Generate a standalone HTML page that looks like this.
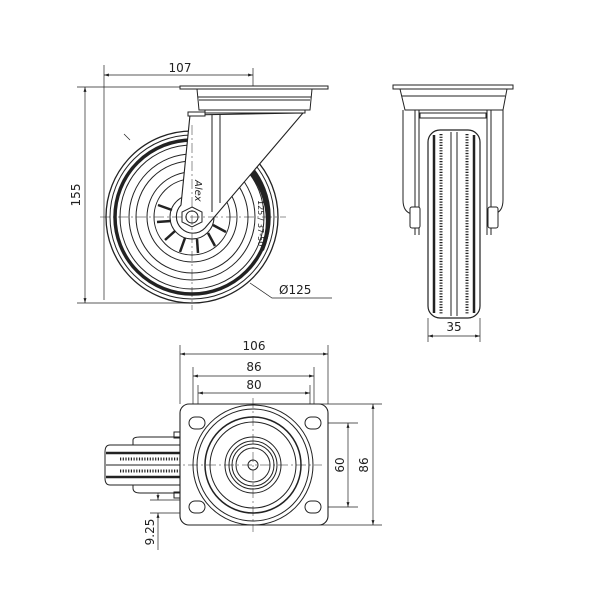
<!DOCTYPE html>
<html><head><style>html,body{margin:0;padding:0;background:#fff}svg{display:block}
text{font-family:"DejaVu Sans","Liberation Sans",sans-serif;font-size:12px;fill:#222}</style></head>
<body>
<svg width="600" height="600" viewBox="0 0 600 600" xmlns="http://www.w3.org/2000/svg">
<defs>
<marker id="a" viewBox="0 0 10 10" refX="10" refY="5" markerWidth="7" markerHeight="7" orient="auto-start-reverse"><path d="M0,2 L10,5 L0,8 z" fill="#222"/></marker>
</defs>
<g stroke="#222" fill="none" stroke-width="1">
<line x1="104" y1="65" x2="104" y2="300" stroke-width="0.7"/>
<line x1="253" y1="68" x2="253" y2="110" stroke-width="0.7"/>
<line x1="104" y1="75" x2="253" y2="75" stroke-width="0.7" marker-start="url(#a)" marker-end="url(#a)"/>
<line x1="77" y1="87" x2="180" y2="87" stroke-width="0.7"/>
<line x1="77" y1="303" x2="192" y2="303" stroke-width="0.7"/>
<line x1="85" y1="87" x2="85" y2="303" stroke-width="0.7" marker-start="url(#a)" marker-end="url(#a)"/>
<circle cx="192" cy="217" r="86" stroke-width="1.3"/>
<circle cx="192" cy="217" r="82"/>
<circle cx="192" cy="217" r="77" stroke-width="3.5"/>
<circle cx="192" cy="217" r="72"/>
<circle cx="192" cy="217" r="63"/>
<circle cx="192" cy="217" r="56"/>
<circle cx="192" cy="217" r="45"/>
<circle cx="192" cy="217" r="38"/>
<circle cx="192" cy="217" r="22"/>
<g stroke-width="2.5">
<line x1="158" y1="205" x2="172" y2="210"/><line x1="157" y1="222" x2="171" y2="221"/>
<line x1="165" y1="240" x2="175" y2="231"/><line x1="180" y1="252" x2="185" y2="238"/>
<line x1="198" y1="253" x2="197" y2="239"/><line x1="215" y1="246" x2="208" y2="233"/>
<line x1="226" y1="232" x2="213" y2="225"/>
</g>
<path d="M247,168 A77 77 0 0 1 262 250" stroke-width="4"/>
<path d="M190,115 L181,205 A13 13 0 0 0 205 228 L303,113 Z" fill="#fff" stroke-width="1.1"/>
<line x1="212" y1="115" x2="212" y2="212"/>
<line x1="220" y1="115" x2="220" y2="203"/>
<polygon points="192,207 202,212 202,222 192,227 182,222 182,212" fill="#fff"/>
<circle cx="192" cy="217" r="6"/>
<rect x="180" y="86" width="148" height="3" fill="#fff"/>
<path d="M197,89 L312,89 L310,110 L199,110 Z" fill="#fff"/>
<line x1="198" y1="97" x2="311" y2="97"/>
<line x1="199" y1="100" x2="310" y2="100"/>
<rect x="205" y="110" width="100" height="3" fill="#fff"/>
<rect x="188" y="112" width="17" height="4" fill="#fff"/>
<g stroke-width="0.5" stroke-dasharray="10,3,2,3">
<line x1="100" y1="217" x2="286" y2="217"/><line x1="192" y1="125" x2="192" y2="310"/>
</g>
<polyline points="250,283 272,298 332,298" stroke-width="0.7"/>
<line x1="130" y1="140" x2="124" y2="134" stroke-width="0.7"/>
<rect x="393" y="85" width="120" height="4" fill="#fff"/>
<path d="M400,89 L507,89 L503,110 L405,110 Z"/>
<line x1="402" y1="96" x2="505" y2="96"/>
<path d="M403,110 L403,200 Q403,212 412,214 M503,110 L503,200 Q503,212 494,214"/>
<line x1="415" y1="110" x2="415" y2="235"/><line x1="419" y1="110" x2="419" y2="235"/>
<line x1="491" y1="110" x2="491" y2="235"/><line x1="487" y1="110" x2="487" y2="235"/>
<rect x="420" y="113" width="66" height="5"/>
<rect x="428" y="130" width="52" height="188" rx="12" fill="#fff" stroke-width="1.2"/>
<line x1="434" y1="135" x2="434" y2="313" stroke-width="2.5"/>
<line x1="474" y1="135" x2="474" y2="313" stroke-width="2.5"/>
<line x1="441" y1="134" x2="441" y2="314" stroke-width="3" stroke-dasharray="1.2,1.5"/>
<line x1="467" y1="134" x2="467" y2="314" stroke-width="3" stroke-dasharray="1.2,1.5"/>
<line x1="451" y1="132" x2="451" y2="316"/><line x1="457" y1="132" x2="457" y2="316"/>
<rect x="410" y="207" width="10" height="21" rx="2" fill="#fff"/>
<rect x="488" y="207" width="10" height="21" rx="2" fill="#fff"/>
<line x1="428" y1="318" x2="428" y2="342" stroke-width="0.7"/>
<line x1="480" y1="318" x2="480" y2="342" stroke-width="0.7"/>
<line x1="428" y1="336" x2="480" y2="336" stroke-width="0.7" marker-start="url(#a)" marker-end="url(#a)"/>
<g stroke-width="0.7">
<line x1="180" y1="345" x2="180" y2="404"/><line x1="328" y1="345" x2="328" y2="404"/>
<line x1="193" y1="367" x2="193" y2="420"/><line x1="314" y1="367" x2="314" y2="420"/>
<line x1="198" y1="385" x2="198" y2="420"/><line x1="310" y1="385" x2="310" y2="420"/>
<line x1="180" y1="354" x2="328" y2="354" marker-start="url(#a)" marker-end="url(#a)"/>
<line x1="193" y1="376" x2="314" y2="376" marker-start="url(#a)" marker-end="url(#a)"/>
<line x1="198" y1="393" x2="310" y2="393" marker-start="url(#a)" marker-end="url(#a)"/>
<line x1="300" y1="404" x2="382" y2="404"/><line x1="300" y1="525" x2="382" y2="525"/>
<line x1="315" y1="423" x2="358" y2="423"/><line x1="315" y1="507" x2="358" y2="507"/>
<line x1="348" y1="423" x2="348" y2="507" marker-start="url(#a)" marker-end="url(#a)"/>
<line x1="373" y1="404" x2="373" y2="525" marker-start="url(#a)" marker-end="url(#a)"/>
<line x1="150" y1="500" x2="190" y2="500"/><line x1="150" y1="513" x2="190" y2="513"/>
<line x1="158" y1="485" x2="158" y2="500" marker-end="url(#a)"/>
<line x1="158" y1="550" x2="158" y2="513" marker-end="url(#a)"/>
</g>
<path d="M133,445 L133,440 Q133,437 140,437 L180,437 L180,493 L140,493 Q133,493 133,488 Z" fill="#fff"/>
<path d="M180,445 L110,445 Q105,445 105,452 L105,478 Q105,485 110,485 L180,485" fill="#fff"/>
<line x1="106" y1="453" x2="180" y2="453" stroke-width="2.5"/>
<line x1="106" y1="477" x2="180" y2="477" stroke-width="2.5"/>
<line x1="120" y1="459" x2="180" y2="459" stroke-width="3" stroke-dasharray="1.2,1.5"/>
<line x1="120" y1="471" x2="180" y2="471" stroke-width="3" stroke-dasharray="1.2,1.5"/>
<line x1="106" y1="465" x2="180" y2="465"/>
<rect x="174" y="432" width="6" height="6"/><rect x="174" y="492" width="6" height="6"/>
<rect x="180" y="404" width="148" height="121" rx="9" fill="#fff" stroke-width="1.1"/>
<circle cx="253" cy="465" r="60"/><circle cx="253" cy="465" r="56"/>
<circle cx="253" cy="465" r="48" stroke-width="1.5"/><circle cx="253" cy="465" r="43"/>
<circle cx="253" cy="465" r="28"/><circle cx="253" cy="465" r="24"/>
<circle cx="253" cy="465" r="21"/><circle cx="253" cy="465" r="17"/>
<circle cx="253" cy="465" r="5"/>
<g>
<rect x="189" y="417" width="16" height="12" rx="6"/><rect x="305" y="417" width="16" height="12" rx="6"/>
<rect x="189" y="501" width="16" height="12" rx="6"/><rect x="305" y="501" width="16" height="12" rx="6"/>
</g>
<g stroke-width="0.5" stroke-dasharray="10,3,2,3">
<line x1="170" y1="465" x2="322" y2="465"/><line x1="253" y1="398" x2="253" y2="532"/>
</g>
</g>
<text x="180" y="72" text-anchor="middle">107</text>
<text transform="translate(80,195) rotate(-90)" text-anchor="middle">155</text>
<text x="279" y="294">Ø125</text>
<text transform="translate(195,180) rotate(90)" style="font-size:10px;font-style:italic">Alex</text>
<text transform="translate(258,200) rotate(90)" style="font-size:8px">125 / 37-50</text>
<text x="454" y="331" text-anchor="middle">35</text>
<text x="254" y="350" text-anchor="middle">106</text>
<text x="254" y="371" text-anchor="middle">86</text>
<text x="254" y="389" text-anchor="middle">80</text>
<text transform="translate(344,465) rotate(-90)" text-anchor="middle">60</text>
<text transform="translate(368,465) rotate(-90)" text-anchor="middle">86</text>
<text transform="translate(154,532) rotate(-90)" text-anchor="middle">9.25</text>
</svg>
</body></html>
